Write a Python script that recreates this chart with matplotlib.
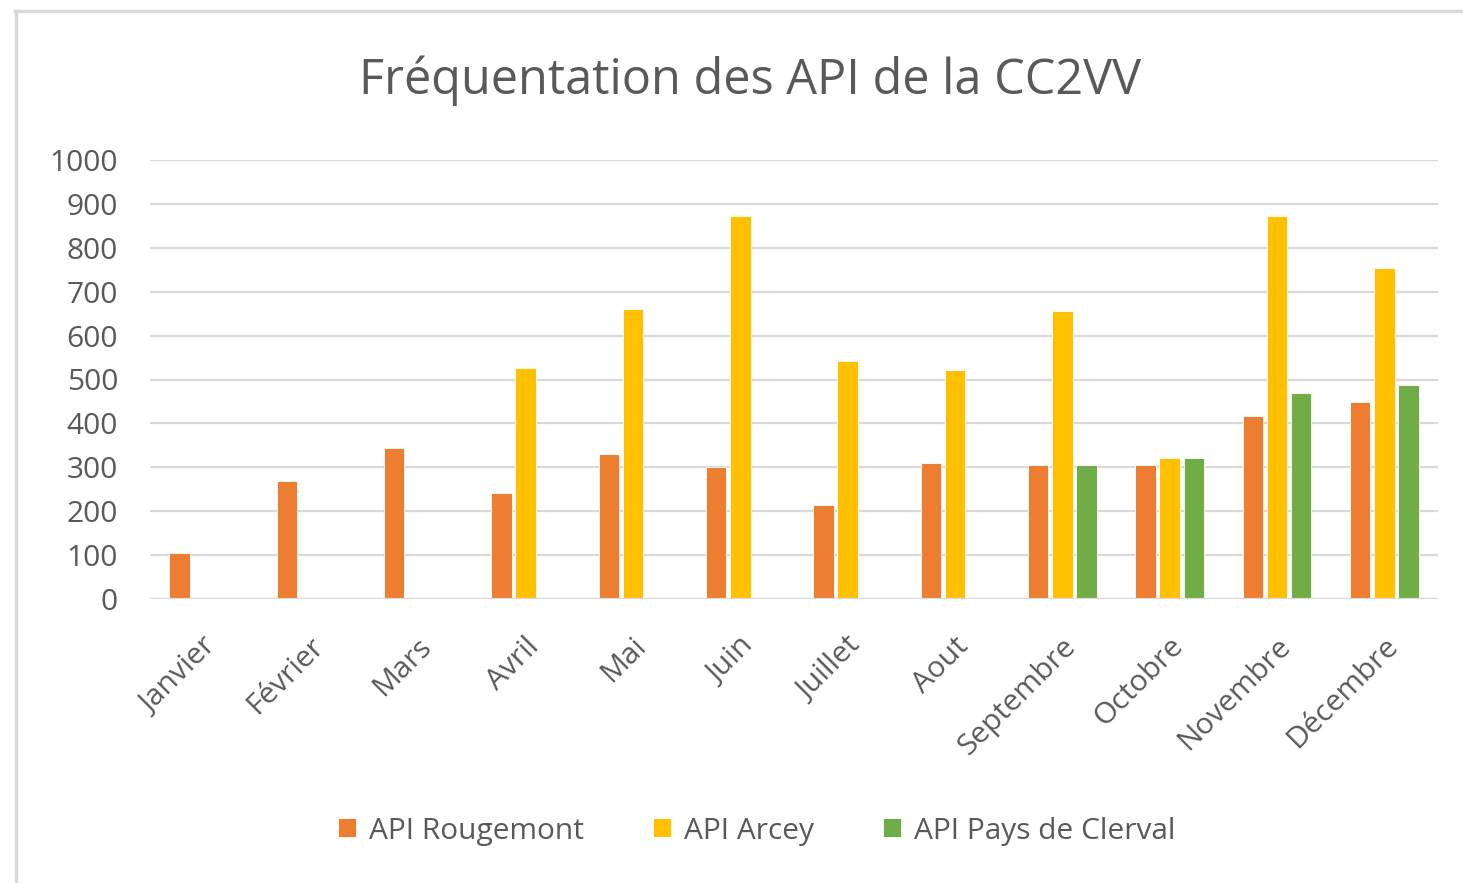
import numpy as np
import matplotlib.pyplot as plt
import matplotlib.transforms as mtransforms
from matplotlib.lines import Line2D

plt.rcParams['font.family'] = ['Open Sans', 'DejaVu Sans']

mois = ['Janvier', 'Février', 'Mars', 'Avril', 'Mai', 'Juin', 'Juillet',
        'Aout', 'Septembre', 'Octobre', 'Novembre', 'Décembre']
rougemont = [105, 269, 344, 241, 330, 301, 214, 310, 305, 305, 417, 449]
arcey = [0, 0, 0, 526, 661, 872, 542, 522, 656, 321, 872, 754]
clerval = [0, 0, 0, 0, 0, 0, 0, 0, 305, 321, 469, 487]
series = ['API Rougemont', 'API Arcey', 'API Pays de Clerval']
couleurs = ['#ED7D31', '#FFC000', '#70AD47']

fig = plt.figure(figsize=(14.63, 8.83), dpi=100)
ax = fig.add_axes([150/1463, 1-599/883, (1438-150)/1463, (599-160)/883])

x = np.arange(len(mois))
w = 0.19
dx = 0.224
for k, (vals, lab, c) in enumerate(zip([rougemont, arcey, clerval], series, couleurs)):
    ax.bar(x + (k-1)*dx, vals, width=w, color=c, label=lab, zorder=3,
           edgecolor='white', linewidth=0.6)

ax.set_xlim(-0.5, 11.5)
ax.set_ylim(0, 1000)
ax.set_yticks(np.arange(0, 1001, 100))
ax.grid(axis='y', color='#d9d9d9', linewidth=1.6, zorder=0)
ax.axhline(0, color='#d9d9d9', linewidth=1.6, zorder=4)
for s in ax.spines.values():
    s.set_visible(False)
ax.tick_params(axis='both', length=0, labelsize=21.5, colors='#595959')
ax.tick_params(axis='y', pad=23)
ax.set_xticks(x)
ax.set_xticklabels(mois, rotation=45, ha='right', va='center', rotation_mode='anchor')
ax.tick_params(axis='x', pad=31)
decal = mtransforms.ScaledTranslation(9/100, 0, fig.dpi_scale_trans)
for t in ax.get_xticklabels():
    t.set_transform(t.get_transform() + decal)

fig.text(0.513, 1-81/883, 'Fréquentation des API de la CC2VV', ha='center', va='center',
         fontsize=35, color='#595959')

leg = fig.legend(loc='center', bbox_to_anchor=(757/1463, 1-831/883), ncol=3, frameon=False,
                 fontsize=21.5, handlelength=0.6, handleheight=0.6, handletextpad=0.45,
                 columnspacing=2.3, labelcolor='#595959')

fig.add_artist(Line2D([15/1463, 1], [1-11/883, 1-11/883], color='#d9d9d9', linewidth=2.5))
fig.add_artist(Line2D([16/1463, 16/1463], [0, 1-11/883], color='#d9d9d9', linewidth=2.5))

fig.savefig('out.png', dpi=100)
